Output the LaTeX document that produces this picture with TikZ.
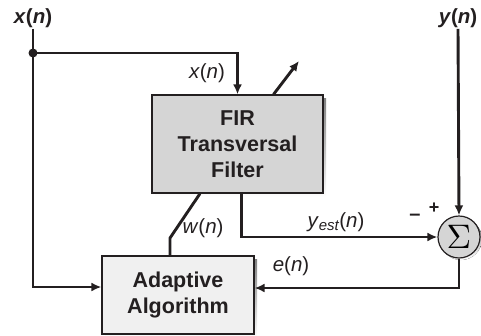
\documentclass[tikz,border=0pt]{standalone}
\usepackage{fontspec}
\setsansfont{Liberation Sans}
\usepackage{xcolor}
\usepackage{graphicx}
\usetikzlibrary{arrows.meta,positioning}

\definecolor{ink}{HTML}{231F20}
\definecolor{firgray}{HTML}{D5D5D5}
\definecolor{algogray}{HTML}{F0F0F0}
\definecolor{shade}{HTML}{8A8A8A}

\begin{document}
\begin{tikzpicture}[x=1pt, y=-1pt,
	wire/.style = {line width=2.9pt, draw=ink},
	arr/.style = {wire, -{Latex[length=10pt, width=9pt]}},
	block/.style = {draw=ink, line width=1.2pt, inner sep=0pt, align=center, text=ink,
		font=\sffamily\bfseries\fontsize{21.5}{26}\selectfont},
	lbl/.style = {inner sep=1pt, text=ink, font=\sffamily\fontsize{20.5}{24}\selectfont},
	sumnode/.style = {circle, draw=ink, line width=1.2pt, fill=firgray, minimum size=42pt,
		inner sep=0pt}]
	\useasboundingbox (0,0) rectangle (481,335);
	
	% shadows
	\fill[shade] (155,98) rectangle (326,197);
	\fill[shade] (105,259) rectangle (257,338);
	\fill[shade] (461,239) circle (21);
	
	\node[block, fill=firgray, minimum width=171pt, minimum height=98pt] (fir) at (237.5,144) {FIR\\Transversal\\Filter};
	\node[block, fill=algogray, minimum width=152pt, minimum height=78pt] (algo) at (178,295) {Adaptive\\Algorithm};
	\node[sumnode] (sum) at (459,237) {\scalebox{3.4}{$\Sigma$}};
	
	% inputs
	\node[lbl, font=\sffamily\bfseries\fontsize{20.5}{24}\selectfont] (xin) at (33,18) {\textit{x}(\textit{n})};
	\node[lbl, font=\sffamily\bfseries\fontsize{20.5}{24}\selectfont] (yin) at (458,18) {\textit{y}(\textit{n})};
	\coordinate (split) at (33,53);
	\coordinate (bend) at (170,238);
	\coordinate (tune) at (299,61);
	
	\draw[wire] (xin.south) -- (split);
	\fill[ink] (split) circle (4.5);
	\draw[arr] (split) -| (fir.north);
	\draw[arr] (split) |- ([yshift=8pt]algo.west);
	\draw[arr] (yin.south) -- (sum.north);
	\draw[arr] ([xshift=4pt]fir.south) |- (sum.west);
	\draw[arr] (sum.south) |- ([yshift=7pt]algo.east);
	\draw[wire] ([xshift=-37.5pt]fir.south) -- (bend) -- ([xshift=-8pt]algo.north);
	\draw[arr] ([xshift=36pt]fir.north) -- (tune);
	
	% labels
	\node[lbl] (xlab) at (207,73) {\textit{x}(\textit{n})};
	\node[lbl] (yestlab) at (336,222) {\textit{y}{\fontsize{15}{15}\selectfont\raisebox{-3pt}{\textit{est}}}(\textit{n})};
	\node[lbl] (elab) at (291,266) {\textit{e}(\textit{n})};
	\node[lbl] (wlab) at (203,228) {\textit{w}(\textit{n})};
	\node[lbl, font=\sffamily\bfseries\fontsize{20}{22}\selectfont] (minus) at (415,217) {--};
	\node[lbl, font=\sffamily\bfseries\fontsize{18}{20}\selectfont] (plus) at (434,208) {+};
\end{tikzpicture}
\end{document}
